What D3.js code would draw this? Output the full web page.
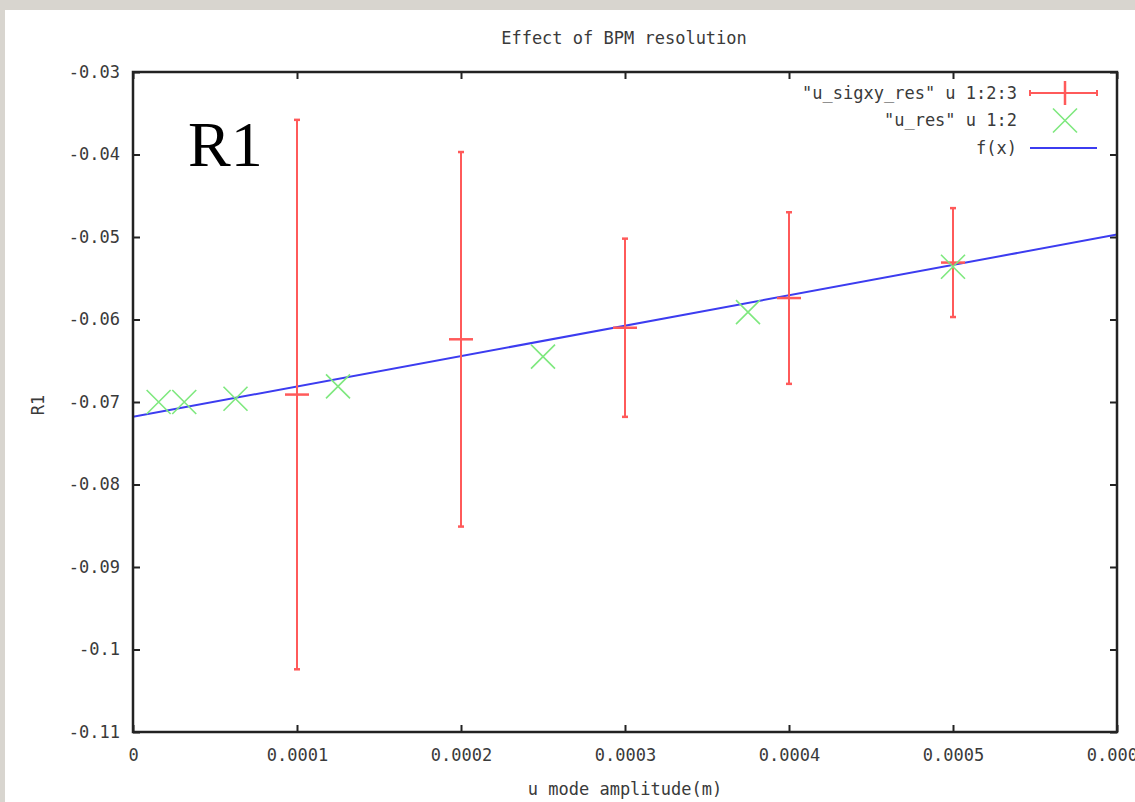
<!DOCTYPE html>
<html>
<head>
<meta charset="utf-8">
<script src="https://cdn.jsdelivr.net/npm/d3@7"></script>
<style>
  html, body { margin: 0; padding: 0; background: #d8d5cf; overflow: hidden; }
  svg { display: block; }
  .mono { font-family: "DejaVu Sans Mono", monospace; fill: #3a3a3a; }
</style>
</head>
<body>
<svg id="chart" width="1135" height="802"></svg>
<script>
// ---- data ----
const errX = [0.0001, 0.0002, 0.0003, 0.0004, 0.0005];        // "u_sigxy_res" u 1:2:3
const errY = [-0.0691, -0.0624, -0.0610, -0.0574, -0.0531];
const errD = [0.0333, 0.0227, 0.0108, 0.0104, 0.0066];

const resX = [0.000015625, 0.00003125, 0.0000625, 0.000125, 0.00025, 0.000375, 0.0005]; // "u_res" u 1:2
const resY = [-0.0700, -0.0700, -0.0696, -0.0681, -0.0645, -0.0591, -0.0536];

const fitX = [0, 0.0006];          // f(x)
const fitY = [-0.0718, -0.0497];

const xTicks = [0, 0.0001, 0.0002, 0.0003, 0.0004, 0.0005, 0.0006];
const xTickLabels = ["0", "0.0001", "0.0002", "0.0003", "0.0004", "0.0005", "0.0006"];
const yTicks = [-0.03, -0.04, -0.05, -0.06, -0.07, -0.08, -0.09, -0.1, -0.11];
const yTickLabels = ["-0.03", "-0.04", "-0.05", "-0.06", "-0.07", "-0.08", "-0.09", "-0.1", "-0.11"];

const legendNames = ["\"u_sigxy_res\" u 1:2:3", "\"u_res\" u 1:2", "f(x)"];

// ---- layout ----
const L = 133, T = 72, R = 1117, B = 732;
const red = "#ff5a5a", green = "#7ee87e", blue = "#3c3cf0", ink = "#222";

const svg = d3.select("#chart");

// white sheet on gray paper
svg.append("rect").attr("x", 5).attr("y", 10).attr("width", 1135).attr("height", 802)
  .attr("fill", "#fff");

const x = d3.scaleLinear().domain([0, 0.0006]).range([L, R]);
const y = d3.scaleLinear().domain([-0.11, -0.03]).range([B, T]);

svg.append("clipPath").attr("id", "plot")
  .append("rect").attr("x", L).attr("y", T).attr("width", R - L).attr("height", B - T);

// title
svg.append("text").attr("class", "mono").attr("x", 624).attr("y", 44)
  .attr("text-anchor", "middle").attr("font-size", 17).text("Effect of BPM resolution");

// axes, gnuplot style: ticks inward, mirrored
function styleAxis(g) {
  g.select(".domain").remove();
  g.selectAll(".tick line").attr("stroke", ink).attr("stroke-width", 2);
  g.selectAll(".tick text").attr("class", "mono").attr("font-size", 17)
    .attr("fill", "#3a3a3a");
}
svg.append("g").attr("transform", `translate(0,${B})`)
  .call(d3.axisBottom(x).tickValues(xTicks).tickFormat((d, i) => xTickLabels[i])
    .tickSizeInner(-7).tickSizeOuter(0).tickPadding(17))
  .call(styleAxis);
svg.append("g").attr("transform", `translate(0,${T})`)
  .call(d3.axisTop(x).tickValues(xTicks).tickFormat("").tickSizeInner(-7).tickSizeOuter(0))
  .call(styleAxis);
svg.append("g").attr("transform", `translate(${L},0)`)
  .call(d3.axisLeft(y).tickValues(yTicks).tickFormat((d, i) => yTickLabels[i])
    .tickSizeInner(-7).tickSizeOuter(0).tickPadding(13))
  .call(styleAxis);
svg.append("g").attr("transform", `translate(${R},0)`)
  .call(d3.axisRight(y).tickValues(yTicks).tickFormat("").tickSizeInner(-7).tickSizeOuter(0))
  .call(styleAxis);

// axis titles
svg.append("text").attr("class", "mono").attr("font-size", 17)
  .attr("transform", "translate(44,405) rotate(-90)").attr("text-anchor", "middle").text("R1");
svg.append("text").attr("class", "mono").attr("font-size", 17)
  .attr("x", 625).attr("y", 795).attr("text-anchor", "middle").text("u mode amplitude(m)");

// data layer
const plot = svg.append("g").attr("clip-path", "url(#plot)");

// fit line
plot.append("path")
  .datum(fitX.map((v, i) => [v, fitY[i]]))
  .attr("d", d3.line().x(d => x(d[0])).y(d => y(d[1])))
  .attr("fill", "none").attr("stroke", blue).attr("stroke-width", 2);

// error bars
const eb = plot.selectAll("g.eb").data(errX.map((v, i) => ({ x: v, y: errY[i], d: errD[i] })))
  .join("g").attr("class", "eb").attr("stroke", red);
eb.append("line").attr("x1", d => x(d.x)).attr("x2", d => x(d.x))
  .attr("y1", d => y(d.y + d.d)).attr("y2", d => y(d.y - d.d)).attr("stroke-width", 2);
eb.append("line").attr("x1", d => x(d.x) - 3).attr("x2", d => x(d.x) + 3)
  .attr("y1", d => y(d.y + d.d)).attr("y2", d => y(d.y + d.d)).attr("stroke-width", 2.5);
eb.append("line").attr("x1", d => x(d.x) - 3).attr("x2", d => x(d.x) + 3)
  .attr("y1", d => y(d.y - d.d)).attr("y2", d => y(d.y - d.d)).attr("stroke-width", 2.5);
eb.append("line").attr("x1", d => x(d.x) - 12).attr("x2", d => x(d.x) + 12)
  .attr("y1", d => y(d.y)).attr("y2", d => y(d.y)).attr("stroke-width", 2.5);

// crosses
function cross(g, cx, cy, s) {
  g.append("path").attr("d", `M${cx - s},${cy - s}L${cx + s},${cy + s}M${cx - s},${cy + s}L${cx + s},${cy - s}`)
    .attr("stroke", green).attr("stroke-width", 1.6).attr("fill", "none");
}
resX.forEach((v, i) => cross(plot, x(v), y(resY[i]), 12));

// frame
svg.append("rect").attr("x", L).attr("y", T).attr("width", R - L).attr("height", B - T)
  .attr("fill", "none").attr("stroke", ink).attr("stroke-width", 2.5);

// legend
const lgY = [93, 120.5, 148];
legendNames.forEach((t, i) => {
  svg.append("text").attr("class", "mono").attr("font-size", 17)
    .attr("x", 1017).attr("y", lgY[i]).attr("dy", "0.35em").attr("text-anchor", "end").text(t);
});
const lg = svg.append("g");
lg.append("line").attr("x1", 1030).attr("x2", 1097).attr("y1", lgY[0]).attr("y2", lgY[0])
  .attr("stroke", red).attr("stroke-width", 2);
[1030, 1097].forEach(px => lg.append("line").attr("x1", px).attr("x2", px)
  .attr("y1", lgY[0] - 3).attr("y2", lgY[0] + 3).attr("stroke", red).attr("stroke-width", 2));
lg.append("line").attr("x1", 1065).attr("x2", 1065).attr("y1", lgY[0] - 12).attr("y2", lgY[0] + 12)
  .attr("stroke", red).attr("stroke-width", 2.5);
cross(lg, 1065, lgY[1], 12);
lg.append("line").attr("x1", 1030).attr("x2", 1097).attr("y1", lgY[2]).attr("y2", lgY[2])
  .attr("stroke", blue).attr("stroke-width", 2);

// big annotation
svg.append("text").attr("x", 188).attr("y", 166)
  .attr("font-family", "'Liberation Serif', 'Times New Roman', serif")
  .attr("font-size", 64).attr("fill", "#000").text("R1");
</script>
</body>
</html>
